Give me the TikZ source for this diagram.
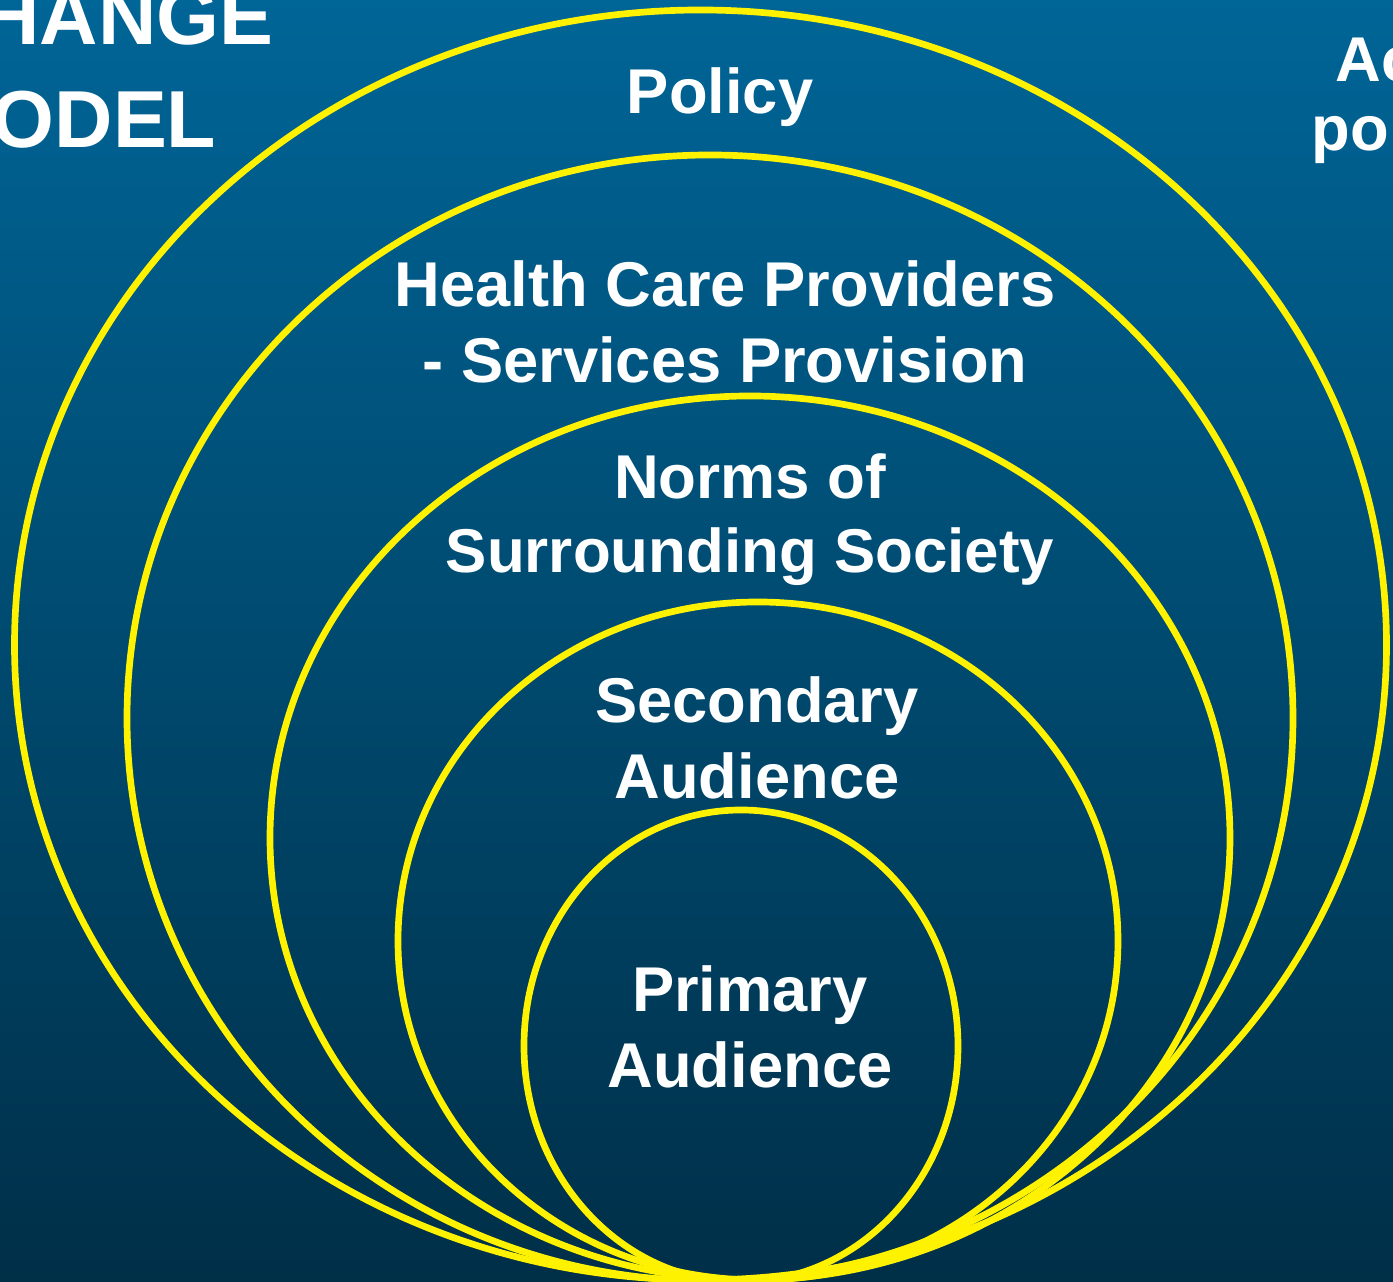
\documentclass[tikz,border=0pt]{standalone}
\usepackage{fontspec}
\setmainfont{Liberation Sans}
\usetikzlibrary{calc}
\definecolor{topblue}{RGB}{0,101,151}
\definecolor{lowblue}{RGB}{0,47,72}
\tikzset{
  ring/.style={draw=yellow, line width=1.9pt},
  lbl/.style={text=white, font=\bfseries\fontsize{18}{21.5}\selectfont, align=center, inner sep=0pt, anchor=north},
  side/.style={text=white, font=\bfseries\fontsize{18}{21.5}\selectfont, inner sep=0pt, anchor=base west},
  head/.style={text=white, font=\bfseries\fontsize{23}{28}\selectfont, inner sep=0pt, anchor=base east}
}

\begin{document}
\begin{tikzpicture}
\shade[top color=topblue, bottom color=lowblue] (0,0) rectangle (13.93,12.82);
\useasboundingbox (0,0) rectangle (13.93,12.82);
\clip (0,0) rectangle (13.93,12.82);
\draw[ring] (7.005,6.37) ellipse (6.86cm and 6.35cm);
\draw[ring] (7.10,5.64) ellipse (5.83cm and 5.63cm);
\draw[ring] (7.50,4.44) ellipse (4.80cm and 4.42cm);
\draw[ring] (7.58,3.41) ellipse (3.60cm and 3.39cm);
\draw[ring] (7.41,2.36) ellipse (2.17cm and 2.36cm);
\node[lbl] (policy) at (7.20,12.15) {Policy};
\node[lbl] (providers) at (7.25,10.22) {Health Care Providers\\- Services Provision};
\node[lbl, font=\bfseries\fontsize{17.6}{21}\selectfont] (norms) at (7.50,8.29) {Norms of\\Surrounding Society};
\node[lbl] (secondary) at (7.57,6.06) {Secondary\\Audience};
\node[lbl] (primary) at (7.50,3.17) {Primary\\Audience};
\node[head] (change) at (2.74,12.37) {HANGE};
\node[head] (model) at (2.17,11.34) {ODEL};
\node[side] (ac) at (13.35,12.00) {Ac};
\node[side] (po) at (13.11,11.31) {po};
\end{tikzpicture}
\end{document}
